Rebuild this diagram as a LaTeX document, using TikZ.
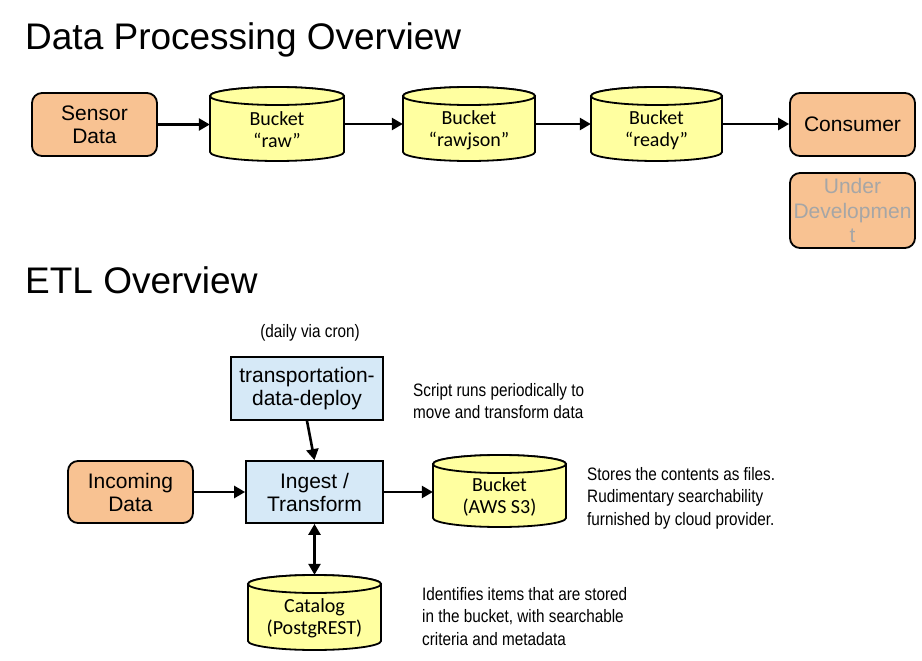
\documentclass[tikz,border=0pt]{standalone}
\usepackage{fontspec}
\setmainfont{Liberation Sans}
\newfontfamily\carlito{Carlito}
\newfontfamily\narrowfont[FakeStretch=0.85]{Liberation Sans}
\usetikzlibrary{arrows.meta}
\definecolor{boxorange}{RGB}{248,194,146}
\definecolor{bucketyellow}{RGB}{255,255,160}
\definecolor{boxblue}{RGB}{214,233,247}
\definecolor{greytext}{RGB}{166,166,166}
\tikzset{
  titletext/.style={inner sep=0pt, anchor=base west, font=\fontsize{37}{40}\selectfont},
  roundbox/.style={draw=black, line width=1.8pt, fill=boxorange, rounded corners=10pt,
    inner sep=0pt, align=center, font=\fontsize{21}{23}\selectfont},
  squarebox/.style={draw=black, line width=1.8pt, fill=boxblue,
    inner sep=0pt, align=center, font=\fontsize{21}{23}\selectfont},
  bucketframe/.style={inner sep=0pt, draw=none},
  bucketline/.style={draw=black, line width=1.8pt, fill=bucketyellow},
  buckettext/.style={inner sep=0pt, align=center, font=\carlito\fontsize{20}{22}\selectfont},
  note/.style={inner sep=0pt, anchor=base west, align=left, font=\narrowfont\fontsize{18}{22.5}\selectfont},
  flow/.style={line width=2.6pt, -{Triangle[length=11pt,width=12pt]}},
  flowboth/.style={line width=2.6pt, {Triangle[length=11pt,width=12pt]}-{Triangle[length=11pt,width=12pt]}}
}
% cylinder drawing: #1 name, #2 cx, #3 cy, #4 half width, #5 half height
\newcommand\bucketdraw[5]{%
  \begin{scope}[shift={(#2,#3)}]
    \path[bucketline] (-#4,-#5+9) -- (-#4,#5-9)
      arc[start angle=180, end angle=0, x radius=#4, y radius=9]
      -- (#4,-#5+9)
      arc[start angle=0, end angle=-180, x radius=#4, y radius=9] -- cycle;
    \path[bucketline] (0,-#5+9) ellipse[x radius=#4, y radius=9];
  \end{scope}
  \node[bucketframe, minimum width=2*#4 pt, minimum height=2*#5 pt] (#1) at (#2,#3) {};
}
\begin{document}
\begin{tikzpicture}[x=1pt, y=-1pt]
\useasboundingbox (0,0) rectangle (922,661);

% titles
\node[titletext] (title1) at (25,50) {Data Processing Overview};
\node[titletext] (title2) at (25,293) {ETL Overview};

% top row
\node[roundbox, minimum width=125pt, minimum height=63pt] (sensor) at (94.5,124.5) {Sensor\\Data};
\bucketdraw{raw}{277}{124}{67}{37}
\node[buckettext] (rawt) at (277,130) {Bucket\\“raw”};
\bucketdraw{rawjson}{469}{124}{66}{37}
\node[buckettext] (rawjsont) at (469,130) {Bucket\\“rawjson”};
\bucketdraw{ready}{656.5}{124}{65.5}{37}
\node[buckettext] (readyt) at (656.5,130) {Bucket\\“ready”};
\node[roundbox, minimum width=125pt, minimum height=63pt] (consumer) at (852.5,124.5) {Consumer};
\node[roundbox, minimum width=125pt, minimum height=75pt, text=greytext,
      font=\fontsize{21}{24.5}\selectfont] (underdev) at (852.5,210.5) {Under\\Developmen\\t};

\draw[flow] (sensor.east) -- (sensor.east -| raw.west);
\draw[flow] (raw.east) -- (rawjson.west);
\draw[flow] (rawjson.east) -- (ready.west);
\draw[flow] (ready.east) -- (ready.east -| consumer.west);

% ETL
\node[note, anchor=base] (cron) at (310,337) {(daily via cron)};
\node[squarebox, minimum width=152pt, minimum height=63pt] (transport) at (307,388.5) {transportation-\\data-deploy};
\node[note] (scriptnote) at (413,418.5) {Script runs periodically to\\move and transform data};
\node[roundbox, minimum width=125pt, minimum height=62pt] (incoming) at (130.5,492) {Incoming\\Data};
\node[squarebox, minimum width=137pt, minimum height=62pt] (ingest) at (314.5,492) {Ingest /\\Transform};
\bucketdraw{aws}{499.5}{491}{66.5}{36}
\node[buckettext] (awst) at (499.5,497) {Bucket\\(AWS S3)};
\node[note] (storesnote) at (587,525) {Stores the contents as files.\\Rudimentary searchability\\furnished by cloud provider.};
\bucketdraw{catalog}{314.5}{612.5}{66.5}{37.5}
\node[buckettext] (catalogt) at (314.5,618.5) {Catalog\\(PostgREST)};
\node[note] (catnote) at (422,645) {Identifies items that are stored\\in the bucket, with searchable\\criteria and metadata};

\draw[flow] (incoming.east) -- (ingest.west);
\draw[flow] (transport.south) -- (ingest.north);
\draw[flow] (ingest.east) -- (ingest.east -| aws.west);
\draw[flowboth] (ingest.south) -- (ingest.south |- catalog.north);
\end{tikzpicture}
\end{document}
